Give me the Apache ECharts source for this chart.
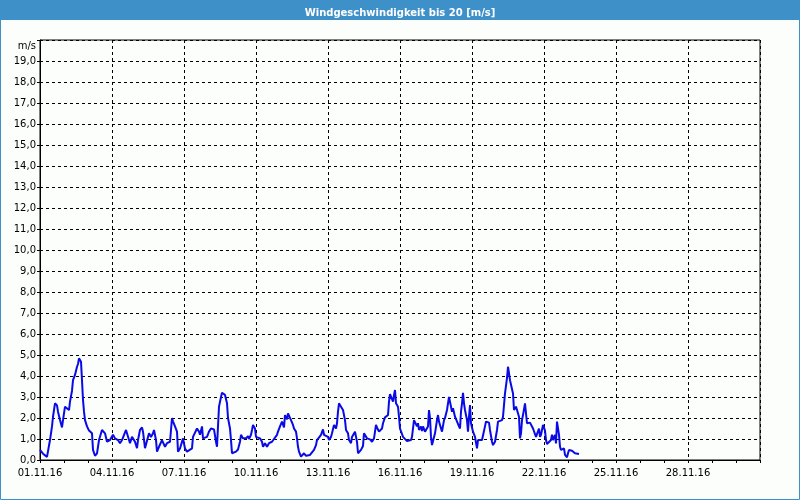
<!DOCTYPE html>
<html>
<head>
<meta charset="utf-8">
<script src="https://cdn.jsdelivr.net/npm/echarts@6/dist/echarts.min.js"></script>
<style>html,body{margin:0;padding:0;background:#fcfefc;}#c{width:800px;height:500px;}</style>
</head>
<body>
<div id="c"></div>
<script>
// hours since 01.11.16 00:00
var hours = [0,3,7,8,10,12,13,15,17,18,20,22,23,25,27,29,30,32,33,35,37,38,39,41,42,43,44,45,47,49,52,53,55,57,59,62,63,65,67,70,73,75,78,80,82,84,86,88,90,92,93,95,97,98,100,102,103,105,107,109,111,113,114,116,117,119,122,123,125,127,128,130,132,133,135,137,138,140,142,143,145,147,149,152,153,157,159,
160,162,163,165,167,169,171,173,174,176,177,178,179,181,182,183,185,187,188,190,191,192,194,196,198,200,201,203,204,206,208,209,211,212,213,215,216,218,220,222,223,225,227,229,232,234,237,238,240,242,243,244,245,247,248,250,251,253,254,256,257,258,259,261,263,264,266,268,270,272,274,276,277,279,281,283,284,286,288,289,291,292,294,296,297,298,299,301,302,303,305,306,308,309,311,312,314,315,317,318,319,321,323,324,325,327,328,330,332,333,334,336,337,339,
341,342,343,345,347,348,349,350,352,353,354,355,356,357,358,359,360,362,363,365,367,369,371,372,373,374,376,377,378,379,381,382,383,385,387,388,389,390,391,392,393,395,397,398,399,400,402,403,404,405,407,408,409,410,411,412,413,415,416,417,419,420,421,422,423,424,425,427,428,429,430,431,432,433,435,437,438,439,442,443,445,446,447,449,450,452,453,455,457,458,460,462,463,465,467,468,469,470,472,473,474,475,476,477,479,480,481,482,483,485,486,487,488,490,492,493,495,496,497,499,
500,501,503,504,505,506,507,509,511,512,513,515,516,517,518,519,520,521,523,524,525,527,528,529,531,532,533,535,537,539];
var speed = [0.48,0.3,0.15,0.2,0.95,1.6,2.06,2.7,2.6,2.3,1.9,1.55,1.9,2.54,2.48,2.38,2.78,3.3,3.8,4.05,4.44,4.57,4.84,4.68,3.8,2.86,2.3,1.9,1.6,1.4,1.27,0.48,0.2,0.32,0.95,1.43,1.5,1.27,0.87,0.95,1.2,1.03,0.95,0.8,0.95,0.87,1.43,1.46,0.8,1.1,1.06,0.87,0.56,0.95,1.43,1.55,1.35,0.56,0.5,1.27,1.1,1.27,1.43,0.95,0.4,0.63,0.95,0.87,0.63,0.8,0.87,0.87,2.0,1.84,1.6,1.35,0.4,0.55,0.48,1.03,0.55,0.4,0.4,0.55,1.1,1.5,1.35,
1.2,1.6,1.03,1.03,1.1,1.35,1.5,1.55,1.46,0.87,0.63,1.6,2.54,3.0,3.2,3.25,3.1,2.7,2.0,1.5,0.95,0.32,0.24,0.4,0.5,0.87,1.2,1.03,1.1,1.03,1.14,1.0,1.2,1.43,1.67,1.5,1.1,1.1,1.03,0.87,0.63,0.8,0.63,0.8,0.87,0.9,1.2,1.35,1.6,1.83,1.9,1.55,2.14,1.94,2.22,2.3,1.9,1.67,1.5,1.35,1.03,0.63,0.4,0.16,0.24,0.32,0.2,0.29,0.24,0.24,0.48,0.71,0.95,1.03,1.2,1.46,1.2,1.27,1.1,0.95,1.1,1.27,1.67,1.5,1.75,2.3,2.7,2.54,2.62,2.38,1.9,1.43,1.27,0.95,0.8,1.1,1.14,1.35,0.87,0.32,0.32,0.48,0.67,1.27,1.2,1.03,0.95,0.98,0.87,0.8,1.03,1.67,1.55,1.35,
1.38,1.5,1.75,2.03,2.1,2.14,2.78,3.14,3.1,2.78,3.1,3.33,2.7,2.62,2.54,2.06,1.5,1.43,1.1,1.03,0.9,0.87,0.95,1.1,1.5,1.9,1.83,1.6,1.75,1.43,1.6,1.38,1.6,1.35,1.43,1.6,2.38,2.0,1.1,0.71,0.63,1.27,1.9,2.14,1.83,1.67,1.35,1.43,1.9,2.0,2.38,2.7,3.0,2.94,2.54,2.3,2.46,2.06,2.0,2.06,1.6,1.5,2.3,2.7,3.2,2.7,2.38,1.9,1.35,2.06,2.62,1.75,1.67,1.35,1.1,0.55,0.95,0.95,0.95,1.03,1.6,1.83,1.75,1.78,1.43,0.87,0.71,0.87,1.43,1.83,1.75,1.9,2.06,3.17,3.9,4.44,4.13,3.8,3.8,3.17,2.38,2.38,2.54,2.38,2.06,1.03,1.27,1.9,2.14,2.7,2.62,1.75,1.83,1.78,1.75,1.5,1.5,1.1,1.19,1.5,
1.1,1.2,1.67,1.75,1.4,0.95,0.76,0.76,0.95,1.2,0.95,1.2,0.79,1.83,1.87,1.2,0.63,0.48,0.55,0.55,0.24,0.13,0.32,0.48,0.52,0.44,0.35,0.32,0.29,0.29];
var yTicks = [0,1,2,3,4,5,6,7,8,9,10,11,12,13,14,15,16,17,18,19,20];
var xStartLabel = '01.11.16';

var points = hours.map(function (h, i) { return [h, speed[i]]; });
function pad(n) { return (n < 10 ? '0' : '') + n; }
var FONT = 'DejaVu Sans';
var chart = echarts.init(document.getElementById('c'), null, {renderer: 'canvas'});
chart.setOption({
  backgroundColor: '#fcfefc',
  animation: false,
  title: {
    text: 'Windgeschwindigkeit bis 20 [m/s]',
    left: 'center', top: 3,
    textStyle: {color: '#ffffff', fontFamily: FONT, fontSize: 10, fontWeight: 'bold'}
  },
  graphic: [
    {type: 'rect', z: -10, shape: {x: 0, y: 0, width: 800, height: 20}, style: {fill: '#3d90c8'}},
    {type: 'rect', z: -10, shape: {x: 0.5, y: 0.5, width: 799, height: 499}, style: {fill: null, stroke: '#3d90c8', lineWidth: 1}}
  ],
  grid: {left: 40, right: 40, top: 40, bottom: 40, show: true, borderColor: '#000', borderWidth: 1, backgroundColor: '#fcfefc'},
  xAxis: {
    type: 'value', min: 0, max: 720, interval: 72,
    axisLine: {lineStyle: {color: '#000', width: 1}},
    axisTick: {show: true, length: 3, lineStyle: {color: '#000'}},
    minorTick: {show: true, splitNumber: 3, length: 3, lineStyle: {color: '#000'}},
    splitLine: {show: true, lineStyle: {color: '#000', type: [3, 3], width: 1}},
    axisLabel: {
      color: '#000', fontFamily: FONT, fontSize: 10, margin: 8,
      formatter: function (v) {
        if (v >= 720) return '';
        var d = 1 + Math.round(v / 24);
        return pad(d) + '.11.16';
      }
    }
  },
  yAxis: {
    type: 'value', min: 0, max: 20, interval: 1,
    axisLine: {show: true, lineStyle: {color: '#000', width: 1}},
    axisTick: {show: true, length: 3, lineStyle: {color: '#000'}},
    splitLine: {show: true, lineStyle: {color: '#000', type: [3, 3], width: 1}},
    axisLabel: {
      color: '#000', fontFamily: FONT, fontSize: 10, margin: 4,
      formatter: function (v) {
        if (v === 20) return '{u|m/s}';
        return v.toFixed(1).replace('.', ',');
      },
      rich: {u: {color: '#000', fontFamily: FONT, fontSize: 10, padding: [12, 0, 0, 0]}}
    }
  },
  series: [{
    type: 'line', data: points, showSymbol: false, symbol: 'none',
    lineStyle: {color: '#0a0ae6', width: 2}, z: 5
  }]
});
</script>
</body>
</html>
